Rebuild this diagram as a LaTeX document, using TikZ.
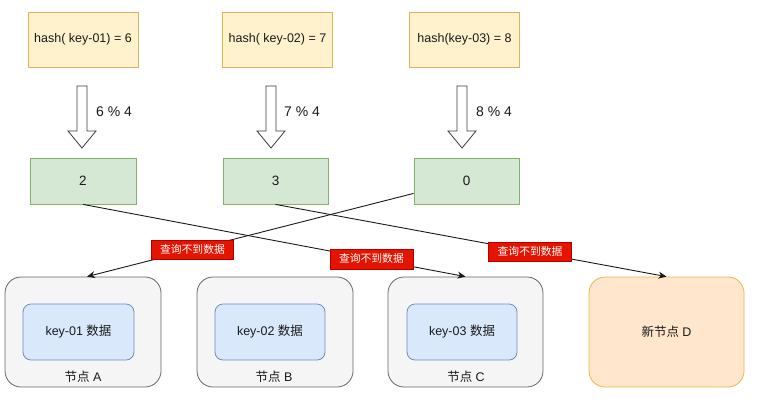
\documentclass[tikz,border=0pt]{standalone}
\usepackage{fontspec}
\setmainfont{Liberation Sans}
\newfontfamily\cjk{Noto Sans CJK SC}
\usetikzlibrary{arrows.meta,calc}
\definecolor{yfill}{HTML}{FFF2CC}
\definecolor{ydraw}{HTML}{D6B656}
\definecolor{gfill}{HTML}{D5E8D4}
\definecolor{gdraw}{HTML}{82B366}
\definecolor{sfill}{HTML}{F5F5F5}
\definecolor{sdraw}{HTML}{666666}
\definecolor{bfill}{HTML}{DAE8FC}
\definecolor{bdraw}{HTML}{6C8EBF}
\definecolor{ofill}{HTML}{FFE6CC}
\definecolor{odraw}{HTML}{E8B84A}
\definecolor{rfill}{HTML}{E51400}
\definecolor{rdraw}{HTML}{B20000}
\definecolor{txt}{HTML}{1A1A1A}
\begin{document}
\begin{tikzpicture}[x=1pt,y=-1pt,
  hashbox/.style={draw=ydraw,fill=yfill,line width=0.8pt,minimum width=110pt,minimum height=55pt,inner sep=0pt,text=txt,font=\fontsize{12.5}{15}\selectfont},
  modbox/.style={draw=gdraw,fill=gfill,line width=0.8pt,minimum width=105pt,minimum height=46pt,inner sep=0pt,text=txt,font=\fontsize{13.5}{16}\selectfont},
  modlab/.style={anchor=west,inner sep=0pt,text=txt,font=\fontsize{14}{16}\selectfont},
  server/.style={draw=sdraw,fill=sfill,line width=0.8pt,rounded corners=16pt,minimum width=156pt,minimum height=110pt,inner sep=0pt},
  datab/.style={draw=bdraw,fill=bfill,line width=0.8pt,rounded corners=8pt,minimum width=110pt,minimum height=56pt,inner sep=0pt,text=txt,font=\fontsize{12.5}{15}\selectfont},
  newserver/.style={draw=odraw,fill=ofill,line width=0.8pt,rounded corners=16pt,minimum width=155pt,minimum height=110pt,inner sep=0pt,text=txt,font=\fontsize{12.5}{15}\selectfont},
  srvlab/.style={inner sep=0pt,text=txt,font=\fontsize{12.5}{15}\selectfont},
  redlab/.style={draw=rdraw,fill=rfill,line width=0.5pt,minimum width=82pt,minimum height=19pt,inner sep=0pt,text=white,font=\cjk\fontsize{10.8}{12}\selectfont},
  conn/.style={draw=txt,line width=0.9pt,-{Stealth[length=8pt,width=7pt,inset=2.5pt]}},
  blockarr/.pic={\draw[fill=white,draw=txt!85,line width=0.8pt] (-5,0) -- (-5,45) -- (-14,45) -- (0,62) -- (14,45) -- (5,45) -- (5,0) -- cycle;}
]
\useasboundingbox (0,0) rectangle (778,405);

% hash boxes
\node[hashbox] (h1) at (83,39.5) {hash( key-01) = 6};
\node[hashbox] (h2) at (277.5,39.5) {hash( key-02) = 7};
\node[hashbox] (h3) at (464.5,39.5) {hash(key-03) = 8};

% block arrows
\pic at (82,86) {blockarr};
\pic at (271,86) {blockarr};
\pic at (462,86) {blockarr};
\node[modlab] (m1) at (96,112) {6 \% 4};
\node[modlab] (m2) at (284,112) {7 \% 4};
\node[modlab] (m3) at (476,112) {8 \% 4};

% modulo result boxes
\node[modbox,minimum width=106pt] (g1) at (83,181) {2};
\node[modbox] (g2) at (275.5,181) {3};
\node[modbox] (g3) at (466.5,181) {0};

% servers
\node[server] (A) at (83,332) {};
\node[server] (B) at (275,332) {};
\node[server,minimum width=155pt] (C) at (465.5,332) {};
\node[newserver] (D) at (666.5,332) {{\cjk 新节点} D};

\node[datab,minimum width=111pt] (dA) at (78.5,332) {key-01 {\cjk 数据}};
\node[datab] (dB) at (270,332) {key-02 {\cjk 数据}};
\node[datab] (dC) at (462,332) {key-03 {\cjk 数据}};

\node[srvlab] (lA) at (83,377) {{\cjk 节点} A};
\node[srvlab] (lB) at (274,377) {{\cjk 节点} B};
\node[srvlab] (lC) at (466,377) {{\cjk 节点} C};

% connectors
\draw[conn] ([yshift=11pt]g3.south west) -- ([xshift=4pt]A.north)
  node[redlab,pos=0.677] (r1) {查询不到数据};
\draw[conn] (g1.south) -- (C.north)
  node[redlab,pos=0.754,minimum height=20pt,minimum width=83pt] (r2) {查询不到数据};
\draw[conn] (g2.south) -- (D.north)
  node[redlab,pos=0.651,minimum width=83pt] (r3) {查询不到数据};
\end{tikzpicture}
\end{document}
